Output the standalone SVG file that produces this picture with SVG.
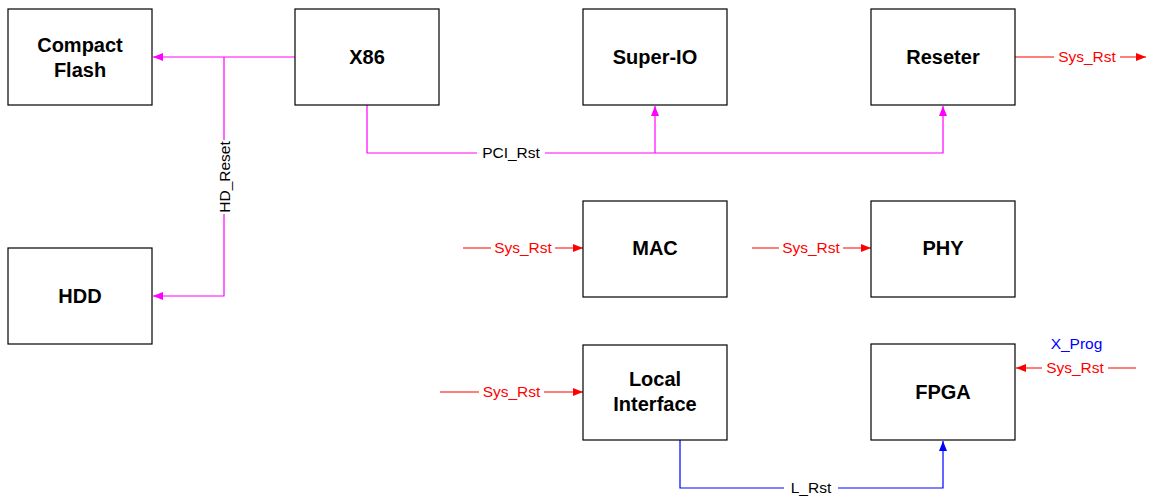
<svg xmlns="http://www.w3.org/2000/svg" width="1166" height="498" viewBox="0 0 1166 498">
<style>
.box{fill:#fff;stroke:#000;stroke-width:1.2}
.nt{font-family:"Liberation Sans",Arial,sans-serif;font-weight:bold;font-size:20px;text-anchor:middle;fill:#000}
.lt{font-family:"Liberation Sans",Arial,sans-serif;font-size:15.5px;text-anchor:middle}
.m{stroke:#FF00FF;fill:none;stroke-width:1.2}
.r{stroke:#FF0000;fill:none;stroke-width:1.2}
.b{stroke:#0000FF;fill:none;stroke-width:1.2}
</style>
<defs>
<marker id="am" markerWidth="10" markerHeight="8" refX="10" refY="4" orient="auto" markerUnits="userSpaceOnUse"><path d="M0,0 L10,4 L0,8 Z" fill="#FF00FF"/></marker>
<marker id="ar" markerWidth="10" markerHeight="8" refX="10" refY="4" orient="auto" markerUnits="userSpaceOnUse"><path d="M0,0 L10,4 L0,8 Z" fill="#FF0000"/></marker>
<marker id="ab" markerWidth="10" markerHeight="8" refX="10" refY="4" orient="auto" markerUnits="userSpaceOnUse"><path d="M0,0 L10,4 L0,8 Z" fill="#0000FF"/></marker>
</defs>
<rect width="1166" height="498" fill="#fff"/>
<g id="connectors">
<path class="m" d="M295,57 H153" marker-end="url(#am)"/>
<path class="m" d="M224,57 V140 M224,214 V296 H153" marker-end="url(#am)"/>
<text class="lt" fill="#000" transform="translate(229.5,177) rotate(-90)">HD_Reset</text>
<path class="m" d="M367,105 V153 H477 M545,153 H943 V106" marker-end="url(#am)"/>
<path class="m" d="M655,153 V106" marker-end="url(#am)"/>
<text class="lt" fill="#000" x="511" y="158">PCI_Rst</text>
<path class="r" d="M1015,57 H1054 M1120,57 H1146" marker-end="url(#ar)"/>
<text class="lt" fill="#FF0000" x="1087" y="62">Sys_Rst</text>
<path class="r" d="M463,248 H491 M555,248 H583" marker-end="url(#ar)"/>
<text class="lt" fill="#FF0000" x="523" y="253">Sys_Rst</text>
<path class="r" d="M752,248 H779 M843,248 H871" marker-end="url(#ar)"/>
<text class="lt" fill="#FF0000" x="811" y="253">Sys_Rst</text>
<path class="r" d="M440,392 H479 M544,392 H583" marker-end="url(#ar)"/>
<text class="lt" fill="#FF0000" x="511.5" y="397">Sys_Rst</text>
<path class="r" d="M1136,368 H1108 M1042,368 H1016" marker-end="url(#ar)"/>
<text class="lt" fill="#FF0000" x="1075" y="373">Sys_Rst</text>
<text class="lt" fill="#0000FF" x="1076.5" y="349">X_Prog</text>
<path class="b" d="M680,440 V488 H784 M838,488 H943 V441" marker-end="url(#ab)"/>
<text class="lt" fill="#000" x="811" y="493">L_Rst</text>
</g>
<g id="compact-flash"><rect class="box" x="8" y="9" width="144" height="96"/><text class="nt" x="80" y="52">Compact</text><text class="nt" x="80" y="77">Flash</text></g>
<g id="x86"><rect class="box" x="295" y="9" width="144" height="96"/><text class="nt" x="367" y="64">X86</text></g>
<g id="super-io"><rect class="box" x="583" y="9" width="144" height="96"/><text class="nt" x="655" y="64">Super-IO</text></g>
<g id="reseter"><rect class="box" x="871" y="9" width="144" height="96"/><text class="nt" x="943" y="64">Reseter</text></g>
<g id="hdd"><rect class="box" x="8" y="248" width="144" height="96"/><text class="nt" x="80" y="303">HDD</text></g>
<g id="mac"><rect class="box" x="583" y="201" width="144" height="96"/><text class="nt" x="655" y="255">MAC</text></g>
<g id="phy"><rect class="box" x="871" y="201" width="144" height="96"/><text class="nt" x="943" y="255">PHY</text></g>
<g id="local-interface"><rect class="box" x="583" y="345" width="144" height="95"/><text class="nt" x="655" y="386">Local</text><text class="nt" x="655" y="411">Interface</text></g>
<g id="fpga"><rect class="box" x="871" y="344" width="144" height="96"/><text class="nt" x="943" y="399">FPGA</text></g>
</svg>
